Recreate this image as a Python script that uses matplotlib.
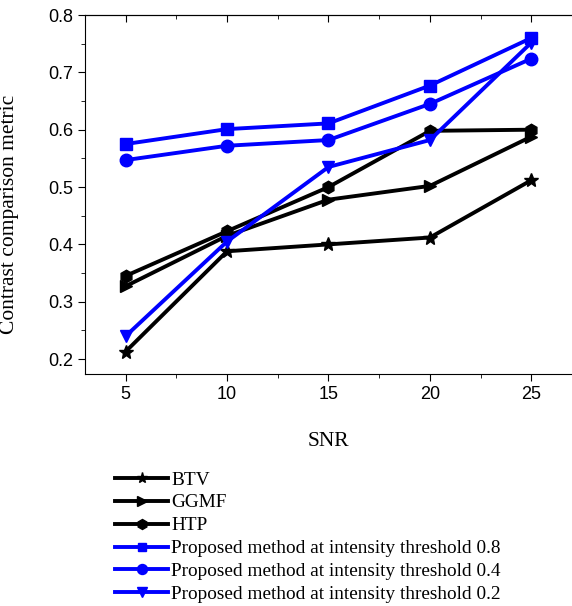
import matplotlib
matplotlib.use("Agg")
import matplotlib.pyplot as plt
from matplotlib.ticker import MultipleLocator

snr = [5, 10, 15, 20, 25]
btv = [0.213, 0.388, 0.400, 0.412, 0.512]
ggmf = [0.327, 0.415, 0.478, 0.502, 0.588]
htp = [0.345, 0.423, 0.500, 0.598, 0.600]
prop08 = [0.575, 0.601, 0.611, 0.677, 0.760]
prop04 = [0.547, 0.572, 0.582, 0.645, 0.724]
prop02 = [0.240, 0.405, 0.535, 0.582, 0.752]

labels = ["BTV", "GGMF", "HTP",
          "Proposed method at intensity threshold 0.8",
          "Proposed method at intensity threshold 0.4",
          "Proposed method at intensity threshold 0.2"]

fig = plt.figure(figsize=(5.72, 6.06), dpi=100)
ax = fig.add_axes([85/572, 1-374/606, (572-85)/572, (374-15)/606])

styles = [(btv, 'black', '*', 10), (ggmf, 'black', '>', 9), (htp, 'black', 'h', 9),
          (prop08, 'blue', 's', 8), (prop04, 'blue', 'o', 9), (prop02, 'blue', 'v', 9)]
handles = []
for (vals, c, m, ms), lab in zip(styles, labels):
    h, = ax.plot(snr, vals, color=c, marker=m, markersize=ms, lw=2.8, label=lab,
                 clip_on=False)
    handles.append(h)

ax.set_xlim(3, 27)
ax.set_ylim(0.174, 0.8)
ax.xaxis.set_minor_locator(MultipleLocator(2.5))
ax.yaxis.set_minor_locator(MultipleLocator(0.05))
ax.spines['right'].set_visible(False)
ax.tick_params(which='both', direction='out', top=False, right=False)
ax.tick_params(which='major', length=5)
ax.tick_params(which='minor', length=3)
ax.set_xticks([5, 10, 15, 20, 25])
ax.set_xticklabels(['5', '10', '15', '20', '25'], fontfamily='Liberation Sans', fontsize=13)
ax.set_yticks([0.2, 0.3, 0.4, 0.5, 0.6, 0.7, 0.8])
ax.set_yticklabels(['0.2', '0.3', '0.4', '0.5', '0.6', '0.7', '0.8'], fontfamily='Liberation Sans', fontsize=13)

# top ticks pointing inward
sec = ax.secondary_xaxis('top')
sec.set_xticks([5, 10, 15, 20, 25])
sec.xaxis.set_minor_locator(MultipleLocator(2.5))
sec.tick_params(which='both', direction='in', labeltop=False)
sec.tick_params(which='major', length=5)
sec.tick_params(which='minor', length=3)

ax.set_xlabel("SNR", fontfamily='Liberation Serif', fontsize=15.5)
ax.set_ylabel("Contrast comparison metric", fontfamily='Liberation Serif', fontsize=15.5)
ax.xaxis.set_label_coords(0.5, -0.162)
ax.yaxis.set_label_coords(-0.136, 0.446)

fig.legend(handles=handles, labels=labels, loc='upper left',
           bbox_to_anchor=(115/572, 1-471/606), frameon=False,
           prop={'family': 'Liberation Serif', 'size': 13.9},
           handlelength=2.75, handletextpad=0.15, labelspacing=0.28, borderpad=0,
           borderaxespad=0, markerscale=0.8)

fig.savefig("out.png", dpi=100)
